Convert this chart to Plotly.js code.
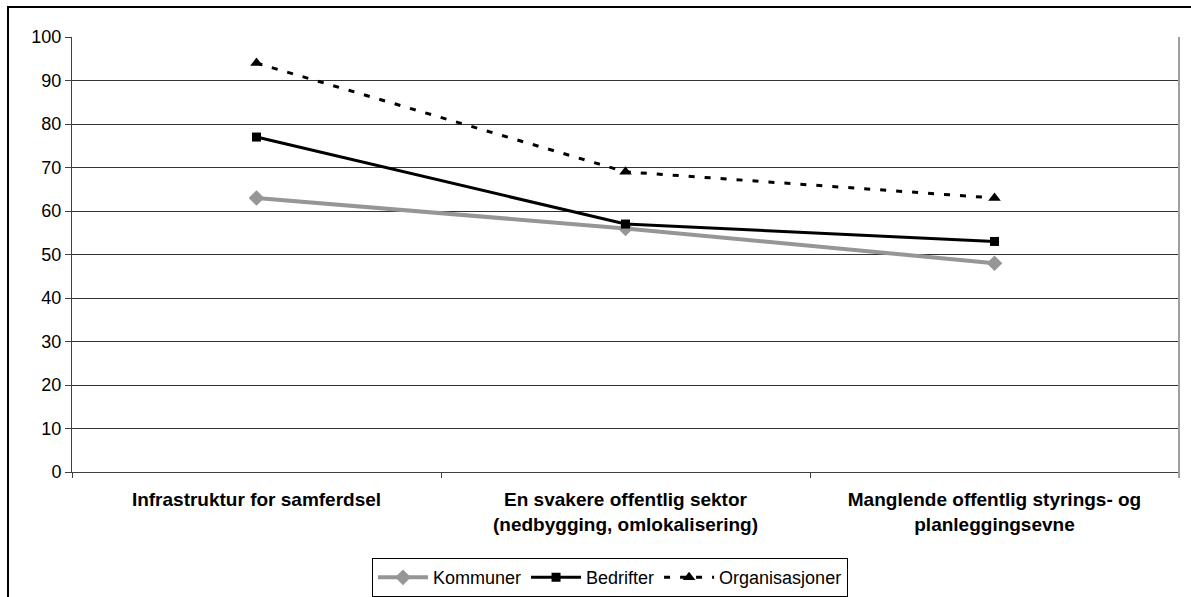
<!DOCTYPE html>
<html>
<head>
<meta charset="utf-8">
<script src="https://cdn.plot.ly/plotly-3.0.1.min.js"></script>
<style>
  html, body { margin: 0; padding: 0; background: #fff; overflow: hidden; }
  #wrap { position: relative; width: 1191px; height: 597px; }
  #chart { position: absolute; left: 0; top: 0; width: 1191px; height: 597px; }
  #frame { position: absolute; left: 7px; top: 6px; width: 1200px; height: 700px;
           border: 2px solid #000; box-sizing: border-box; pointer-events: none; }
</style>
</head>
<body>
<div id="wrap">
  <div id="chart"></div>
  <div id="frame"></div>
</div>
<script>
const categories = [
  "Infrastruktur for samferdsel",
  "En svakere offentlig sektor<br>(nedbygging, omlokalisering)",
  "Manglende offentlig styrings- og<br>planleggingsevne"
];
const kommuner = [63, 56, 48];
const bedrifter = [77, 57, 53];
const organisasjoner = [94, 69, 63];
const yTicks = [0, 10, 20, 30, 40, 50, 60, 70, 80, 90, 100];

const FONT = "Arial, 'Liberation Sans', sans-serif";

const traces = [
  {
    x: categories, y: kommuner, name: "Kommuner", type: "scatter", mode: "lines+markers",
    line: { color: "#969696", width: 4 },
    marker: { symbol: "diamond", size: 12, color: "#969696" }
  },
  {
    x: categories, y: bedrifter, name: "Bedrifter", type: "scatter", mode: "lines+markers",
    line: { color: "#000000", width: 3 },
    marker: { symbol: "square", size: 9, color: "#000000" }
  },
  {
    x: categories, y: organisasjoner, name: "Organisasjoner", type: "scatter", mode: "lines+markers",
    line: { color: "#000000", width: 3, dash: "6px,10px" },
    marker: { symbol: "triangle-up", size: 11, color: "#000000" }
  }
];

const layout = {
  width: 1191, height: 597,
  margin: { l: 72, r: 12, t: 37, b: 125, autoexpand: false },
  paper_bgcolor: "rgba(0,0,0,0)",
  plot_bgcolor: "#ffffff",
  font: { family: FONT, size: 18, color: "#000" },
  showlegend: true,
  legend: {
    orientation: "h", x: 0.486, xanchor: "center", y: -0.198, yanchor: "top",
    bordercolor: "#000", borderwidth: 1, bgcolor: "#fff",
    font: { family: FONT, size: 18, color: "#000" },
    itemwidth: 50, tracegroupgap: 0
  },
  xaxis: {
    type: "category", range: [-0.5, 2.5],
    tickson: "boundaries", ticks: "outside", ticklen: 5, tickcolor: "#404040",
    ticklabelstandoff: 10,
    showgrid: false, showline: true, linecolor: "#404040", linewidth: 1,
    tickfont: { family: FONT, size: 19, color: "#000", weight: "bold" },
    zeroline: false, fixedrange: true
  },
  yaxis: {
    range: [0, 100], tickvals: yTicks, ticktext: yTicks.map(String),
    ticks: "outside", ticklen: 6, tickcolor: "#404040",
    showline: true, linecolor: "#404040", linewidth: 1,
    showgrid: true, gridcolor: "#333333", gridwidth: 1,
    zeroline: false, tickfont: { family: FONT, size: 18, color: "#000" },
    fixedrange: true
  },
  shapes: [
    { type: "line", xref: "paper", yref: "paper", x0: 1, x1: 1, y0: 0, y1: 1,
      line: { color: "#a0a0a0", width: 2 } },
    { type: "line", xref: "paper", yref: "paper", x0: 1, x1: 1, y0: 0, y1: -0.014,
      line: { color: "#a0a0a0", width: 2 } }
  ]
};

Plotly.newPlot("chart", traces, layout, { displayModeBar: false, staticPlot: true });
</script>
</body>
</html>
